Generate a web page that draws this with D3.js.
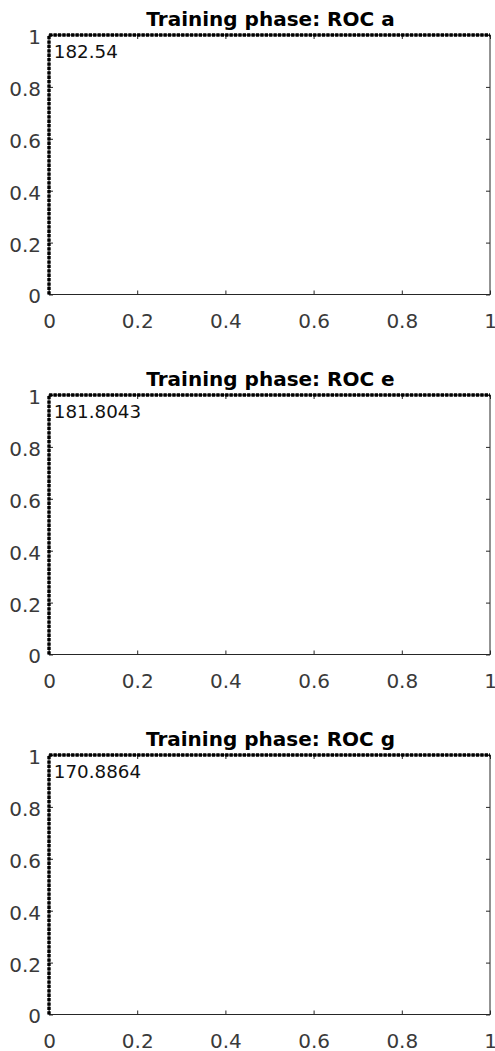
<!DOCTYPE html>
<html><head><meta charset="utf-8">
<script src="https://cdn.jsdelivr.net/npm/d3@7"></script>
<style>
html,body{margin:0;padding:0;background:#fff;}
svg{display:block;}
</style></head>
<body>
<svg id="chart" width="495" height="1051"></svg>
<script>
// Data
const titles = ["Training phase: ROC a", "Training phase: ROC e", "Training phase: ROC g"];
const fprA = [0, 0, 1];
const tprA = [0, 1, 1];
const fprE = [0, 0, 1];
const tprE = [0, 1, 1];
const fprG = [0, 0, 1];
const tprG = [0, 1, 1];
const annotations = ["182.54", "181.8043", "170.8864"];
const xTicks = [0, 0.2, 0.4, 0.6, 0.8, 1];
const yTicks = [0, 0.2, 0.4, 0.6, 0.8, 1];
const xTickLabels = ["0", "0.2", "0.4", "0.6", "0.8", "1"];
const yTickLabels = ["0", "0.2", "0.4", "0.6", "0.8", "1"];

const series = [
  {fpr: fprA, tpr: tprA},
  {fpr: fprE, tpr: tprE},
  {fpr: fprG, tpr: tprG}
];

const svg = d3.select("#chart");
const left = 49, right = 490;
const tops = [35, 395, 755];
const plotH = 259.5;
const axisColor = "#262626";
const tickColor = "#3a3a3a";
const font = "'DejaVu Sans', sans-serif";

series.forEach((s, i) => {
  const top = tops[i], bottom = top + plotH;
  const x = d3.scaleLinear().domain([0, 1]).range([left, right]);
  const y = d3.scaleLinear().domain([0, 1]).range([bottom, top]);
  const g = svg.append("g");

  // box
  g.append("rect").attr("x", left).attr("y", top)
    .attr("width", right - left).attr("height", bottom - top)
    .attr("fill", "none").attr("stroke", axisColor).attr("stroke-width", 1);

  // bottom axis
  const xa = g.append("g").attr("transform", `translate(0,${bottom})`)
    .call(d3.axisBottom(x).tickValues(xTicks).tickFormat((d, k) => xTickLabels[k]).tickSizeInner(-4).tickSizeOuter(0));
  xa.select(".domain").remove();
  xa.selectAll("line").attr("stroke", axisColor);
  xa.selectAll("text").attr("y", 33).attr("dy", null)
    .attr("font-family", font).attr("font-size", 20).attr("fill", tickColor);

  // top ticks
  const xt = g.append("g").attr("transform", `translate(0,${top})`)
    .call(d3.axisTop(x).tickValues(xTicks).tickFormat("").tickSizeInner(-4).tickSizeOuter(0));
  xt.select(".domain").remove();
  xt.selectAll("line").attr("stroke", axisColor);

  // left axis
  const ya = g.append("g").attr("transform", `translate(${left},0)`)
    .call(d3.axisLeft(y).tickValues(yTicks).tickFormat((d, k) => yTickLabels[k]).tickSizeInner(-4).tickSizeOuter(0));
  ya.select(".domain").remove();
  ya.selectAll("line").attr("stroke", axisColor);
  ya.selectAll("text").attr("x", -8).attr("dy", "0.42em")
    .attr("font-family", font).attr("font-size", 20).attr("fill", tickColor);

  // right ticks
  const yr = g.append("g").attr("transform", `translate(${right},0)`)
    .call(d3.axisRight(y).tickValues(yTicks).tickFormat("").tickSizeInner(-4).tickSizeOuter(0));
  yr.select(".domain").remove();
  yr.selectAll("line").attr("stroke", axisColor);

  // title
  g.append("text").attr("x", (left + right) / 2 + 1).attr("y", top - 9.5)
    .attr("text-anchor", "middle").attr("font-family", font).attr("font-weight", "bold")
    .attr("font-size", 20).attr("fill", "#000").text(titles[i]);

  // ROC line
  const pts = s.fpr.map((v, k) => [v, s.tpr[k]]);
  g.append("path").datum(pts)
    .attr("d", d3.line().x(d => x(d[0])).y(d => y(d[1])))
    .attr("fill", "none").attr("stroke", "#000").attr("stroke-width", 3.4)
    .attr("stroke-dasharray", "3.3,1.1");

  // annotation
  g.append("text").attr("x", x(0.011)).attr("y", y(0.935)).attr("dy", "0.36em")
    .attr("font-family", font).attr("font-size", 18.3).attr("fill", "#111")
    .text(annotations[i]);
});
</script>
</body></html>
